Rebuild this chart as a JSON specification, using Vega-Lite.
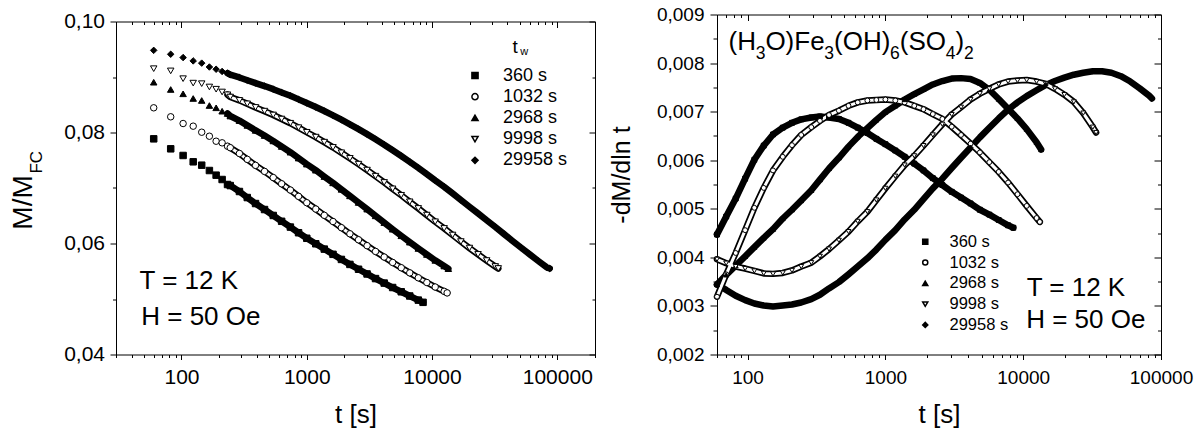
{
"$schema": "https://vega.github.io/schema/vega-lite/v6.json",
"background": "white",
"padding": {"left": 9, "top": 5.5, "right": 2, "bottom": 2},
"config": {
 "font": "Liberation Sans",
 "view": {"stroke": null},
 "axis": {"domainColor": "black", "domainWidth": 1, "tickColor": "black", "tickWidth": 1, "labelColor": "black", "titleColor": "black", "titleFontWeight": "normal", "grid": false, "labelFlush": false, "labelOverlap": false},
 "legend": {"labelColor": "black"}
},
"datasets": {
"L": [
{"s":"360 s","t":60,"v":0.07886},{"s":"360 s","t":82,"v":0.07706},{"s":"360 s","t":103,"v":0.07586},{"s":"360 s","t":124,"v":0.07472},{"s":"360 s","t":145,"v":0.07411},{"s":"360 s","t":167,"v":0.07315},{"s":"360 s","t":189,"v":0.07231},{"s":"360 s","t":211,"v":0.07153},{"s":"360 s","t":233,"v":0.07063},{"s":"360 s","t":245,"v":0.07044},{"s":"360 s","t":290,"v":0.06937},{"s":"360 s","t":335,"v":0.06828},{"s":"360 s","t":390,"v":0.0672},{"s":"360 s","t":460,"v":0.06612},{"s":"360 s","t":540,"v":0.06505},{"s":"360 s","t":630,"v":0.064},{"s":"360 s","t":740,"v":0.06296},{"s":"360 s","t":860,"v":0.06194},{"s":"360 s","t":1000,"v":0.06094},{"s":"360 s","t":1180,"v":0.05995},{"s":"360 s","t":1380,"v":0.05899},{"s":"360 s","t":1620,"v":0.05805},{"s":"360 s","t":1890,"v":0.05713},{"s":"360 s","t":2210,"v":0.05623},{"s":"360 s","t":2590,"v":0.05536},{"s":"360 s","t":3030,"v":0.05451},{"s":"360 s","t":3540,"v":0.05368},{"s":"360 s","t":4150,"v":0.05287},{"s":"360 s","t":4850,"v":0.05207},{"s":"360 s","t":5680,"v":0.0513},{"s":"360 s","t":6640,"v":0.05054},{"s":"360 s","t":7770,"v":0.0498},{"s":"360 s","t":8480,"v":0.0494},
{"s":"1032 s","t":60,"v":0.08445},{"s":"1032 s","t":82,"v":0.08283},{"s":"1032 s","t":103,"v":0.08162},{"s":"1032 s","t":124,"v":0.08114},{"s":"1032 s","t":145,"v":0.08005},{"s":"1032 s","t":167,"v":0.07933},{"s":"1032 s","t":189,"v":0.07843},{"s":"1032 s","t":211,"v":0.07814},{"s":"1032 s","t":233,"v":0.07753},{"s":"1032 s","t":245,"v":0.07726},{"s":"1032 s","t":290,"v":0.07622},{"s":"1032 s","t":335,"v":0.07516},{"s":"1032 s","t":390,"v":0.07408},{"s":"1032 s","t":460,"v":0.07299},{"s":"1032 s","t":540,"v":0.07188},{"s":"1032 s","t":630,"v":0.07076},{"s":"1032 s","t":740,"v":0.06963},{"s":"1032 s","t":860,"v":0.06849},{"s":"1032 s","t":1000,"v":0.06735},{"s":"1032 s","t":1180,"v":0.06621},{"s":"1032 s","t":1380,"v":0.06508},{"s":"1032 s","t":1620,"v":0.06396},{"s":"1032 s","t":1890,"v":0.06285},{"s":"1032 s","t":2210,"v":0.06175},{"s":"1032 s","t":2590,"v":0.06067},{"s":"1032 s","t":3030,"v":0.05961},{"s":"1032 s","t":3540,"v":0.05857},{"s":"1032 s","t":4150,"v":0.05756},{"s":"1032 s","t":4850,"v":0.05658},{"s":"1032 s","t":5680,"v":0.05563},{"s":"1032 s","t":6640,"v":0.05471},{"s":"1032 s","t":7770,"v":0.05382},{"s":"1032 s","t":9090,"v":0.05297},{"s":"1032 s","t":10600,"v":0.05216},{"s":"1032 s","t":12500,"v":0.05138},{"s":"1032 s","t":13200,"v":0.0511},
{"s":"2968 s","t":60,"v":0.08906},{"s":"2968 s","t":82,"v":0.08775},{"s":"2968 s","t":103,"v":0.08697},{"s":"2968 s","t":124,"v":0.08613},{"s":"2968 s","t":145,"v":0.08577},{"s":"2968 s","t":167,"v":0.08486},{"s":"2968 s","t":189,"v":0.08445},{"s":"2968 s","t":211,"v":0.08384},{"s":"2968 s","t":233,"v":0.08342},{"s":"2968 s","t":245,"v":0.08297},{"s":"2968 s","t":290,"v":0.08214},{"s":"2968 s","t":335,"v":0.08128},{"s":"2968 s","t":390,"v":0.08038},{"s":"2968 s","t":460,"v":0.07945},{"s":"2968 s","t":540,"v":0.07848},{"s":"2968 s","t":630,"v":0.07748},{"s":"2968 s","t":740,"v":0.07645},{"s":"2968 s","t":860,"v":0.07539},{"s":"2968 s","t":1000,"v":0.0743},{"s":"2968 s","t":1180,"v":0.0732},{"s":"2968 s","t":1380,"v":0.07207},{"s":"2968 s","t":1620,"v":0.07092},{"s":"2968 s","t":1890,"v":0.06976},{"s":"2968 s","t":2210,"v":0.06858},{"s":"2968 s","t":2590,"v":0.06739},{"s":"2968 s","t":3030,"v":0.06619},{"s":"2968 s","t":3540,"v":0.06498},{"s":"2968 s","t":4150,"v":0.06377},{"s":"2968 s","t":4850,"v":0.06257},{"s":"2968 s","t":5680,"v":0.06139},{"s":"2968 s","t":6640,"v":0.06024},{"s":"2968 s","t":7770,"v":0.05911},{"s":"2968 s","t":9090,"v":0.05802},{"s":"2968 s","t":10600,"v":0.05696},{"s":"2968 s","t":12500,"v":0.05594},{"s":"2968 s","t":13500,"v":0.05546},
{"s":"9998 s","t":60,"v":0.0915},{"s":"9998 s","t":82,"v":0.0911},{"s":"9998 s","t":103,"v":0.0897},{"s":"9998 s","t":124,"v":0.0889},{"s":"9998 s","t":145,"v":0.0888},{"s":"9998 s","t":167,"v":0.0882},{"s":"9998 s","t":189,"v":0.0878},{"s":"9998 s","t":211,"v":0.0873},{"s":"9998 s","t":233,"v":0.0868},{"s":"9998 s","t":245,"v":0.08639},{"s":"9998 s","t":290,"v":0.08579},{"s":"9998 s","t":335,"v":0.08517},{"s":"9998 s","t":390,"v":0.08452},{"s":"9998 s","t":460,"v":0.08385},{"s":"9998 s","t":540,"v":0.08316},{"s":"9998 s","t":630,"v":0.08243},{"s":"9998 s","t":740,"v":0.08167},{"s":"9998 s","t":860,"v":0.08087},{"s":"9998 s","t":1000,"v":0.08004},{"s":"9998 s","t":1180,"v":0.07917},{"s":"9998 s","t":1380,"v":0.07826},{"s":"9998 s","t":1620,"v":0.07732},{"s":"9998 s","t":1890,"v":0.07635},{"s":"9998 s","t":2210,"v":0.07534},{"s":"9998 s","t":2590,"v":0.0743},{"s":"9998 s","t":3030,"v":0.07323},{"s":"9998 s","t":3540,"v":0.07213},{"s":"9998 s","t":4150,"v":0.071},{"s":"9998 s","t":4850,"v":0.06985},{"s":"9998 s","t":5680,"v":0.06869},{"s":"9998 s","t":6640,"v":0.06751},{"s":"9998 s","t":7770,"v":0.06632},{"s":"9998 s","t":9090,"v":0.06512},{"s":"9998 s","t":10600,"v":0.06392},{"s":"9998 s","t":12500,"v":0.06272},{"s":"9998 s","t":14600,"v":0.06153},{"s":"9998 s","t":17000,"v":0.06035},{"s":"9998 s","t":19900,"v":0.05918},{"s":"9998 s","t":23300,"v":0.05804},{"s":"9998 s","t":27300,"v":0.05693},{"s":"9998 s","t":32000,"v":0.05586},{"s":"9998 s","t":33800,"v":0.0555},
{"s":"29958 s","t":60,"v":0.0948},{"s":"29958 s","t":82,"v":0.0941},{"s":"29958 s","t":103,"v":0.0935},{"s":"29958 s","t":124,"v":0.0929},{"s":"29958 s","t":145,"v":0.0925},{"s":"29958 s","t":167,"v":0.0918},{"s":"29958 s","t":189,"v":0.0914},{"s":"29958 s","t":211,"v":0.091},{"s":"29958 s","t":233,"v":0.0907},{"s":"29958 s","t":245,"v":0.09041},{"s":"29958 s","t":290,"v":0.08992},{"s":"29958 s","t":335,"v":0.08942},{"s":"29958 s","t":390,"v":0.0889},{"s":"29958 s","t":460,"v":0.08837},{"s":"29958 s","t":540,"v":0.08781},{"s":"29958 s","t":630,"v":0.08722},{"s":"29958 s","t":740,"v":0.08661},{"s":"29958 s","t":860,"v":0.08597},{"s":"29958 s","t":1000,"v":0.0853},{"s":"29958 s","t":1180,"v":0.0846},{"s":"29958 s","t":1380,"v":0.08387},{"s":"29958 s","t":1620,"v":0.0831},{"s":"29958 s","t":1890,"v":0.0823},{"s":"29958 s","t":2210,"v":0.08147},{"s":"29958 s","t":2590,"v":0.0806},{"s":"29958 s","t":3030,"v":0.0797},{"s":"29958 s","t":3540,"v":0.07877},{"s":"29958 s","t":4150,"v":0.0778},{"s":"29958 s","t":4850,"v":0.0768},{"s":"29958 s","t":5680,"v":0.07577},{"s":"29958 s","t":6640,"v":0.07471},{"s":"29958 s","t":7770,"v":0.07362},{"s":"29958 s","t":9090,"v":0.0725},{"s":"29958 s","t":10600,"v":0.07136},{"s":"29958 s","t":12500,"v":0.0702},{"s":"29958 s","t":14600,"v":0.06903},{"s":"29958 s","t":17000,"v":0.06783},{"s":"29958 s","t":19900,"v":0.06663},{"s":"29958 s","t":23300,"v":0.06542},{"s":"29958 s","t":27300,"v":0.0642},{"s":"29958 s","t":32000,"v":0.06297},{"s":"29958 s","t":37400,"v":0.06174},{"s":"29958 s","t":43700,"v":0.06051},{"s":"29958 s","t":51200,"v":0.05929},{"s":"29958 s","t":59900,"v":0.05809},{"s":"29958 s","t":70100,"v":0.0569},{"s":"29958 s","t":82000,"v":0.05574},{"s":"29958 s","t":87000,"v":0.0555}
],
"R": [
{"s":"360 s","t":60,"v":0.00447},{"s":"360 s","t":70,"v":0.00484},{"s":"360 s","t":82,"v":0.00521},{"s":"360 s","t":96,"v":0.00562},{"s":"360 s","t":112,"v":0.00601},{"s":"360 s","t":131,"v":0.0063},{"s":"360 s","t":153,"v":0.00653},{"s":"360 s","t":180,"v":0.00667},{"s":"360 s","t":210,"v":0.00677},{"s":"360 s","t":245,"v":0.00684},{"s":"360 s","t":290,"v":0.00688},{"s":"360 s","t":335,"v":0.0069},{"s":"360 s","t":390,"v":0.00688},{"s":"360 s","t":460,"v":0.00685},{"s":"360 s","t":540,"v":0.00677},{"s":"360 s","t":630,"v":0.00667},{"s":"360 s","t":740,"v":0.00656},{"s":"360 s","t":860,"v":0.00644},{"s":"360 s","t":1000,"v":0.00633},{"s":"360 s","t":1180,"v":0.0062},{"s":"360 s","t":1380,"v":0.00607},{"s":"360 s","t":1620,"v":0.00593},{"s":"360 s","t":1890,"v":0.00579},{"s":"360 s","t":2210,"v":0.00563},{"s":"360 s","t":2590,"v":0.00549},{"s":"360 s","t":3030,"v":0.00535},{"s":"360 s","t":3540,"v":0.00523},{"s":"360 s","t":4150,"v":0.00511},{"s":"360 s","t":4850,"v":0.00498},{"s":"360 s","t":5680,"v":0.00488},{"s":"360 s","t":6640,"v":0.00477},{"s":"360 s","t":7770,"v":0.00466},{"s":"360 s","t":8480,"v":0.00461},
{"s":"1032 s","t":60,"v":0.00319},{"s":"1032 s","t":70,"v":0.00365},{"s":"1032 s","t":82,"v":0.00409},{"s":"1032 s","t":96,"v":0.00456},{"s":"1032 s","t":112,"v":0.00502},{"s":"1032 s","t":131,"v":0.00543},{"s":"1032 s","t":153,"v":0.00579},{"s":"1032 s","t":180,"v":0.00607},{"s":"1032 s","t":210,"v":0.00631},{"s":"1032 s","t":245,"v":0.00652},{"s":"1032 s","t":290,"v":0.00668},{"s":"1032 s","t":335,"v":0.00681},{"s":"1032 s","t":390,"v":0.00693},{"s":"1032 s","t":460,"v":0.00702},{"s":"1032 s","t":540,"v":0.00712},{"s":"1032 s","t":630,"v":0.00719},{"s":"1032 s","t":740,"v":0.00723},{"s":"1032 s","t":860,"v":0.00724},{"s":"1032 s","t":1000,"v":0.00725},{"s":"1032 s","t":1180,"v":0.00723},{"s":"1032 s","t":1380,"v":0.00719},{"s":"1032 s","t":1620,"v":0.00712},{"s":"1032 s","t":1890,"v":0.00705},{"s":"1032 s","t":2210,"v":0.00695},{"s":"1032 s","t":2590,"v":0.00685},{"s":"1032 s","t":3030,"v":0.00669},{"s":"1032 s","t":3540,"v":0.00652},{"s":"1032 s","t":4150,"v":0.00634},{"s":"1032 s","t":4850,"v":0.00616},{"s":"1032 s","t":5680,"v":0.00596},{"s":"1032 s","t":6640,"v":0.00576},{"s":"1032 s","t":7770,"v":0.00554},{"s":"1032 s","t":9090,"v":0.0053},{"s":"1032 s","t":10600,"v":0.00506},{"s":"1032 s","t":12500,"v":0.00481},{"s":"1032 s","t":13200,"v":0.00473},
{"s":"2968 s","t":60,"v":0.00344},{"s":"2968 s","t":70,"v":0.00364},{"s":"2968 s","t":82,"v":0.00383},{"s":"2968 s","t":96,"v":0.00402},{"s":"2968 s","t":112,"v":0.00421},{"s":"2968 s","t":131,"v":0.0044},{"s":"2968 s","t":153,"v":0.00458},{"s":"2968 s","t":180,"v":0.0048},{"s":"2968 s","t":210,"v":0.00498},{"s":"2968 s","t":245,"v":0.00517},{"s":"2968 s","t":290,"v":0.00538},{"s":"2968 s","t":335,"v":0.0056},{"s":"2968 s","t":390,"v":0.00583},{"s":"2968 s","t":460,"v":0.00605},{"s":"2968 s","t":540,"v":0.00628},{"s":"2968 s","t":630,"v":0.00648},{"s":"2968 s","t":740,"v":0.00666},{"s":"2968 s","t":860,"v":0.00683},{"s":"2968 s","t":1000,"v":0.00699},{"s":"2968 s","t":1180,"v":0.00712},{"s":"2968 s","t":1380,"v":0.00725},{"s":"2968 s","t":1620,"v":0.00736},{"s":"2968 s","t":1890,"v":0.00746},{"s":"2968 s","t":2210,"v":0.00756},{"s":"2968 s","t":2590,"v":0.00763},{"s":"2968 s","t":3030,"v":0.00768},{"s":"2968 s","t":3540,"v":0.00769},{"s":"2968 s","t":4150,"v":0.00767},{"s":"2968 s","t":4850,"v":0.00759},{"s":"2968 s","t":5680,"v":0.00745},{"s":"2968 s","t":6640,"v":0.00726},{"s":"2968 s","t":7770,"v":0.00706},{"s":"2968 s","t":9090,"v":0.00686},{"s":"2968 s","t":10600,"v":0.00664},{"s":"2968 s","t":12500,"v":0.00637},{"s":"2968 s","t":13500,"v":0.00622},
{"s":"9998 s","t":60,"v":0.00396},{"s":"9998 s","t":70,"v":0.00388},{"s":"9998 s","t":82,"v":0.00381},{"s":"9998 s","t":96,"v":0.00377},{"s":"9998 s","t":112,"v":0.00372},{"s":"9998 s","t":131,"v":0.00367},{"s":"9998 s","t":153,"v":0.00366},{"s":"9998 s","t":180,"v":0.00368},{"s":"9998 s","t":210,"v":0.00373},{"s":"9998 s","t":245,"v":0.00381},{"s":"9998 s","t":290,"v":0.00389},{"s":"9998 s","t":335,"v":0.00402},{"s":"9998 s","t":390,"v":0.00417},{"s":"9998 s","t":460,"v":0.00435},{"s":"9998 s","t":540,"v":0.00453},{"s":"9998 s","t":630,"v":0.00474},{"s":"9998 s","t":740,"v":0.00494},{"s":"9998 s","t":860,"v":0.00518},{"s":"9998 s","t":1000,"v":0.00542},{"s":"9998 s","t":1180,"v":0.00567},{"s":"9998 s","t":1380,"v":0.0059},{"s":"9998 s","t":1620,"v":0.00609},{"s":"9998 s","t":1890,"v":0.0063},{"s":"9998 s","t":2210,"v":0.00652},{"s":"9998 s","t":2590,"v":0.00674},{"s":"9998 s","t":3030,"v":0.00694},{"s":"9998 s","t":3540,"v":0.00709},{"s":"9998 s","t":4150,"v":0.00725},{"s":"9998 s","t":4850,"v":0.00737},{"s":"9998 s","t":5680,"v":0.00747},{"s":"9998 s","t":6640,"v":0.00756},{"s":"9998 s","t":7770,"v":0.00762},{"s":"9998 s","t":9090,"v":0.00764},{"s":"9998 s","t":10600,"v":0.00765},{"s":"9998 s","t":12500,"v":0.00762},{"s":"9998 s","t":14600,"v":0.00757},{"s":"9998 s","t":17000,"v":0.00747},{"s":"9998 s","t":19900,"v":0.00735},{"s":"9998 s","t":23300,"v":0.0072},{"s":"9998 s","t":27300,"v":0.00697},{"s":"9998 s","t":32000,"v":0.00668},{"s":"9998 s","t":33800,"v":0.00657},
{"s":"29958 s","t":60,"v":0.00344},{"s":"29958 s","t":70,"v":0.00333},{"s":"29958 s","t":82,"v":0.00321},{"s":"29958 s","t":96,"v":0.00312},{"s":"29958 s","t":112,"v":0.00305},{"s":"29958 s","t":131,"v":0.00301},{"s":"29958 s","t":153,"v":0.00299},{"s":"29958 s","t":180,"v":0.00301},{"s":"29958 s","t":210,"v":0.00303},{"s":"29958 s","t":245,"v":0.00307},{"s":"29958 s","t":290,"v":0.00314},{"s":"29958 s","t":335,"v":0.00323},{"s":"29958 s","t":390,"v":0.00336},{"s":"29958 s","t":460,"v":0.00349},{"s":"29958 s","t":540,"v":0.00365},{"s":"29958 s","t":630,"v":0.00381},{"s":"29958 s","t":740,"v":0.00398},{"s":"29958 s","t":860,"v":0.00416},{"s":"29958 s","t":1000,"v":0.00436},{"s":"29958 s","t":1180,"v":0.00456},{"s":"29958 s","t":1380,"v":0.00478},{"s":"29958 s","t":1620,"v":0.00498},{"s":"29958 s","t":1890,"v":0.0052},{"s":"29958 s","t":2210,"v":0.00542},{"s":"29958 s","t":2590,"v":0.00562},{"s":"29958 s","t":3030,"v":0.00584},{"s":"29958 s","t":3540,"v":0.00605},{"s":"29958 s","t":4150,"v":0.00626},{"s":"29958 s","t":4850,"v":0.00647},{"s":"29958 s","t":5680,"v":0.00667},{"s":"29958 s","t":6640,"v":0.00686},{"s":"29958 s","t":7770,"v":0.00704},{"s":"29958 s","t":9090,"v":0.00719},{"s":"29958 s","t":10600,"v":0.00732},{"s":"29958 s","t":12500,"v":0.00744},{"s":"29958 s","t":14600,"v":0.00755},{"s":"29958 s","t":17000,"v":0.00763},{"s":"29958 s","t":19900,"v":0.0077},{"s":"29958 s","t":23300,"v":0.00776},{"s":"29958 s","t":27300,"v":0.0078},{"s":"29958 s","t":32000,"v":0.00783},{"s":"29958 s","t":37400,"v":0.00783},{"s":"29958 s","t":43700,"v":0.0078},{"s":"29958 s","t":51200,"v":0.00773},{"s":"29958 s","t":59900,"v":0.00762},{"s":"29958 s","t":70100,"v":0.00748},{"s":"29958 s","t":82000,"v":0.00733},{"s":"29958 s","t":86000,"v":0.00727}
]
},
"spacing": 13,
"resolve": {"scale": {"shape": "shared", "fill": "shared"}, "legend": {"shape": "independent", "fill": "independent"}},
"hconcat": [
{
 "width": 479, "height": 340,
 "resolve": {"axis": {"x": "independent", "y": "independent"}},
 "layer": [
  {
   "data": {"name": "L"},
   "transform": [{"filter": "datum.t >= 233"}],
   "mark": {"type": "line", "color": "black", "strokeWidth": 6.5, "strokeJoin": "round", "strokeCap": "round"},
   "encoding": {
    "x": {"field": "t", "type": "quantitative", "scale": {"type": "log", "domain": [30, 200000], "nice": false},
     "axis": {"orient": "bottom", "values": [30,40,50,60,70,80,90,100,200,300,400,500,600,700,800,900,1000,2000,3000,4000,5000,6000,7000,8000,9000,10000,20000,30000,40000,50000,60000,70000,80000,90000,100000,200000],
      "format": "d", "labelExpr": "indexof([100,1000,10000,100000], datum.value) >= 0 ? datum.label : ''",
      "tickSize": {"condition": {"test": "indexof([100,1000,10000,100000], datum.value) >= 0", "value": 5}, "value": 3},
      "labelFontSize": 21, "labelPadding": 6.5, "title": "t [s]", "titleFontSize": 26, "titlePadding": 14}},
    "y": {"field": "v", "type": "quantitative", "scale": {"domain": [0.04, 0.1], "range": [340, 7], "nice": false, "zero": false},
     "axis": {"orient": "left", "values": [0.04,0.05,0.06,0.07,0.08,0.09,0.1],
      "labelExpr": "abs(datum.value*50 - round(datum.value*50)) < 0.001 ? replace(format(datum.value, '.2f'), '.', ',') : ''",
      "tickSize": {"condition": {"test": "abs(datum.value*50 - round(datum.value*50)) < 0.001", "value": 6}, "value": 3.5},
      "labelFontSize": 21, "labelPadding": 5.5, "title": null}},
    "detail": {"field": "s"}
   }
  },
  {
   "data": {"name": "L"},
   "transform": [{"filter": "datum.t >= 233 && (datum.s == '1032 s' || datum.s == '9998 s')"}],
   "mark": {"type": "line", "color": "white", "strokeWidth": 3, "strokeJoin": "round", "strokeCap": "round"},
   "encoding": {
    "x": {"field": "t", "type": "quantitative", "scale": {"type": "log", "domain": [30, 200000], "nice": false},
     "axis": {"orient": "top", "offset": -7, "values": [30,40,50,60,70,80,90,100,200,300,400,500,600,700,800,900,1000,2000,3000,4000,5000,6000,7000,8000,9000,10000,20000,30000,40000,50000,60000,70000,80000,90000,100000,200000],
      "labels": false,
      "tickSize": {"condition": {"test": "indexof([100,1000,10000,100000], datum.value) >= 0", "value": -6}, "value": -3},
      "title": null}},
    "y": {"field": "v", "type": "quantitative", "scale": {"domain": [0.04, 0.1], "range": [340, 7], "nice": false, "zero": false},
     "axis": {"orient": "right", "values": [0.04,0.05,0.06,0.07,0.08,0.09,0.1], "labels": false,
      "tickSize": {"condition": {"test": "abs(datum.value*50 - round(datum.value*50)) < 0.001", "value": -6}, "value": -3}, "title": null}},
    "detail": {"field": "s"}
   }
  },
  {
   "data": {"name": "L"},
   "mark": {"type": "point", "filled": true, "stroke": "black", "strokeWidth": 1, "opacity": 1, "size": 42},
   "encoding": {
    "x": {"field": "t", "type": "quantitative", "scale": {"type": "log", "domain": [30, 200000], "nice": false}, "axis": null},
    "y": {"field": "v", "type": "quantitative", "scale": {"domain": [0.04, 0.1], "range": [340, 7], "nice": false, "zero": false}, "axis": null},
    "shape": {"field": "s", "type": "nominal", "scale": {"domain": ["360 s","1032 s","2968 s","9998 s","29958 s"], "range": ["square","circle","triangle-up","triangle-down","diamond"]},
     "legend": {"orient": "none", "legendX": 350, "legendY": 52, "title": null, "labelFontSize": 18, "symbolSize": 38, "labelOffset": 19, "rowPadding": 3.2, "padding": 0,
      "encode": {"symbols": {"update": {"stroke": {"value": "black"}, "strokeWidth": {"value": 1}}}}}},
    "fill": {"field": "s", "type": "nominal", "scale": {"domain": ["360 s","1032 s","2968 s","9998 s","29958 s"], "range": ["black","white","black","white","black"]},
     "legend": {"orient": "none", "legendX": 350, "legendY": 52, "title": null, "labelFontSize": 18, "symbolSize": 38, "labelOffset": 19, "rowPadding": 3.2, "padding": 0,
      "encode": {"symbols": {"update": {"stroke": {"value": "black"}, "strokeWidth": {"value": 1}}}}}}
   }
  },
  {
   "data": {"values": [{"txt": "T = 12 K", "t": 46.2, "v": 0.05184}, {"txt": "H = 50 Oe", "t": 47.7, "v": 0.04523}]},
   "mark": {"type": "text", "fontSize": 26, "align": "left", "baseline": "alphabetic", "color": "black"},
   "encoding": {
    "x": {"field": "t", "type": "quantitative", "scale": {"type": "log", "domain": [30, 200000], "nice": false}, "axis": null},
    "y": {"field": "v", "type": "quantitative", "scale": {"domain": [0.04, 0.1], "range": [340, 7], "nice": false, "zero": false}, "axis": null},
    "text": {"field": "txt"}
   }
  },
  {
   "data": {"values": [{"txt": "M/M", "t": 6.39, "v": 0.0625}]},
   "mark": {"type": "text", "fontSize": 28, "angle": 270, "align": "left", "baseline": "alphabetic", "color": "black"},
   "encoding": {
    "x": {"field": "t", "type": "quantitative", "scale": {"type": "log", "domain": [30, 200000], "nice": false}, "axis": null},
    "y": {"field": "v", "type": "quantitative", "scale": {"domain": [0.04, 0.1], "range": [340, 7], "nice": false, "zero": false}, "axis": null},
    "text": {"field": "txt"}
   }
  },
  {
   "data": {"values": [{"txt": "FC", "t": 7.68, "v": 0.0726}]},
   "mark": {"type": "text", "fontSize": 17, "angle": 270, "align": "left", "baseline": "alphabetic", "color": "black"},
   "encoding": {
    "x": {"field": "t", "type": "quantitative", "scale": {"type": "log", "domain": [30, 200000], "nice": false}, "axis": null},
    "y": {"field": "v", "type": "quantitative", "scale": {"domain": [0.04, 0.1], "range": [340, 7], "nice": false, "zero": false}, "axis": null},
    "text": {"field": "txt"}
   }
  },
  {
   "data": {"values": [{"txt": "t", "t": 43940, "v": 0.09436}]},
   "mark": {"type": "text", "fontSize": 19, "align": "left", "baseline": "alphabetic", "color": "black"},
   "encoding": {
    "x": {"field": "t", "type": "quantitative", "scale": {"type": "log", "domain": [30, 200000], "nice": false}, "axis": null},
    "y": {"field": "v", "type": "quantitative", "scale": {"domain": [0.04, 0.1], "range": [340, 7], "nice": false, "zero": false}, "axis": null},
    "text": {"field": "txt"}
   }
  },
  {
   "data": {"values": [{"txt": "w", "t": 50600, "v": 0.09396}]},
   "mark": {"type": "text", "fontSize": 11, "align": "left", "baseline": "alphabetic", "color": "black"},
   "encoding": {
    "x": {"field": "t", "type": "quantitative", "scale": {"type": "log", "domain": [30, 200000], "nice": false}, "axis": null},
    "y": {"field": "v", "type": "quantitative", "scale": {"domain": [0.04, 0.1], "range": [340, 7], "nice": false, "zero": false}, "axis": null},
    "text": {"field": "txt"}
   }
  }
 ]
},
{
 "width": 444, "height": 340,
 "resolve": {"axis": {"x": "independent", "y": "independent"}},
 "layer": [
  {
   "data": {"name": "R"},
   "mark": {"type": "line", "color": "black", "strokeWidth": 6.5, "strokeJoin": "round", "strokeCap": "round"},
   "encoding": {
    "x": {"field": "t", "type": "quantitative", "scale": {"type": "log", "domain": [60, 100000], "nice": false},
     "axis": {"orient": "bottom", "values": [60,70,80,90,100,200,300,400,500,600,700,800,900,1000,2000,3000,4000,5000,6000,7000,8000,9000,10000,20000,30000,40000,50000,60000,70000,80000,90000,100000],
      "format": "d", "labelExpr": "indexof([100,1000,10000,100000], datum.value) >= 0 ? datum.label : ''",
      "tickSize": {"condition": {"test": "indexof([100,1000,10000,100000], datum.value) >= 0", "value": 5}, "value": 3},
      "labelFontSize": 19, "labelPadding": 9, "title": "t [s]", "titleFontSize": 26, "titlePadding": 14}},
    "y": {"field": "v", "type": "quantitative", "scale": {"domain": [0.002, 0.009], "nice": false, "zero": false},
     "axis": {"orient": "left", "values": [0.002,0.0025,0.003,0.0035,0.004,0.0045,0.005,0.0055,0.006,0.0065,0.007,0.0075,0.008,0.0085,0.009],
      "labelExpr": "abs(datum.value*1000 - round(datum.value*1000)) < 0.01 ? replace(format(datum.value, '.3f'), '.', ',') : ''",
      "tickSize": {"condition": {"test": "abs(datum.value*1000 - round(datum.value*1000)) < 0.01", "value": 7}, "value": 4},
      "labelFontSize": 19, "labelPadding": 6, "title": "-dM/dln t", "titleFontSize": 25, "titlePadding": 22, "titleY": 160}},
    "detail": {"field": "s"}
   }
  },
  {
   "data": {"name": "R"},
   "transform": [{"filter": "datum.s == '1032 s' || datum.s == '9998 s'"}],
   "mark": {"type": "line", "color": "white", "strokeWidth": 3, "strokeJoin": "round", "strokeCap": "round"},
   "encoding": {
    "x": {"field": "t", "type": "quantitative", "scale": {"type": "log", "domain": [60, 100000], "nice": false},
     "axis": {"orient": "top", "values": [60,70,80,90,100,200,300,400,500,600,700,800,900,1000,2000,3000,4000,5000,6000,7000,8000,9000,10000,20000,30000,40000,50000,60000,70000,80000,90000,100000],
      "labels": false,
      "tickSize": {"condition": {"test": "indexof([100,1000,10000,100000], datum.value) >= 0", "value": -6}, "value": -3}, "title": null}},
    "y": {"field": "v", "type": "quantitative", "scale": {"domain": [0.002, 0.009], "nice": false, "zero": false},
     "axis": {"orient": "right", "values": [0.002,0.0025,0.003,0.0035,0.004,0.0045,0.005,0.0055,0.006,0.0065,0.007,0.0075,0.008,0.0085,0.009], "labels": false,
      "tickSize": {"condition": {"test": "abs(datum.value*1000 - round(datum.value*1000)) < 0.01", "value": -7}, "value": -3.5}, "title": null}},
    "detail": {"field": "s"}
   }
  },
  {
   "data": {"name": "R"},
   "mark": {"type": "point", "filled": true, "stroke": "black", "strokeWidth": 1, "opacity": 1, "size": 24},
   "encoding": {
    "x": {"field": "t", "type": "quantitative", "scale": {"type": "log", "domain": [60, 100000], "nice": false}, "axis": null},
    "y": {"field": "v", "type": "quantitative", "scale": {"domain": [0.002, 0.009], "nice": false, "zero": false}, "axis": null},
    "shape": {"field": "s", "type": "nominal", "scale": {"domain": ["360 s","1032 s","2968 s","9998 s","29958 s"], "range": ["square","circle","triangle-up","triangle-down","diamond"]},
     "legend": {"orient": "none", "legendX": 200, "legendY": 219, "title": null, "labelFontSize": 16.5, "symbolSize": 26, "labelOffset": 16, "rowPadding": 3.8, "padding": 0,
      "encode": {"symbols": {"update": {"stroke": {"value": "black"}, "strokeWidth": {"value": 1}}}}}},
    "fill": {"field": "s", "type": "nominal", "scale": {"domain": ["360 s","1032 s","2968 s","9998 s","29958 s"], "range": ["black","white","black","white","black"]},
     "legend": {"orient": "none", "legendX": 200, "legendY": 219, "title": null, "labelFontSize": 16.5, "symbolSize": 26, "labelOffset": 16, "rowPadding": 3.8, "padding": 0,
      "encode": {"symbols": {"update": {"stroke": {"value": "black"}, "strokeWidth": {"value": 1}}}}}}
   }
  },
  {
   "data": {"values": [{"txt": "T = 12 K", "t": 10600, "v": 0.0032}, {"txt": "H = 50 Oe", "t": 10513, "v": 0.00255}]},
   "mark": {"type": "text", "fontSize": 26, "align": "left", "baseline": "alphabetic", "color": "black"},
   "encoding": {
    "x": {"field": "t", "type": "quantitative", "scale": {"type": "log", "domain": [60, 100000], "nice": false}, "axis": null},
    "y": {"field": "v", "type": "quantitative", "scale": {"domain": [0.002, 0.009], "nice": false, "zero": false}, "axis": null},
    "text": {"field": "txt"}
   }
  },
  {
   "data": {"values": [{"txt": "(H", "t": 72.7, "v": 0.008276}, {"txt": "O)Fe", "t": 134.7, "v": 0.008276}, {"txt": "(OH)", "t": 423.8, "v": 0.008276}, {"txt": "(SO", "t": 1271, "v": 0.008276}, {"txt": ")", "t": 3221, "v": 0.008276}]},
   "mark": {"type": "text", "fontSize": 26, "align": "left", "baseline": "alphabetic", "color": "black"},
   "encoding": {
    "x": {"field": "t", "type": "quantitative", "scale": {"type": "log", "domain": [60, 100000], "nice": false}, "axis": null},
    "y": {"field": "v", "type": "quantitative", "scale": {"domain": [0.002, 0.009], "nice": false, "zero": false}, "axis": null},
    "text": {"field": "txt"}
   }
  },
  {
   "data": {"values": [{"txt": "3", "t": 114.6, "v": 0.00808}, {"txt": "3", "t": 360.5, "v": 0.00808}, {"txt": "6", "t": 1081, "v": 0.00808}, {"txt": "4", "t": 2740, "v": 0.00808}, {"txt": "2", "t": 3722, "v": 0.00808}]},
   "mark": {"type": "text", "fontSize": 17.5, "align": "left", "baseline": "alphabetic", "color": "black"},
   "encoding": {
    "x": {"field": "t", "type": "quantitative", "scale": {"type": "log", "domain": [60, 100000], "nice": false}, "axis": null},
    "y": {"field": "v", "type": "quantitative", "scale": {"domain": [0.002, 0.009], "nice": false, "zero": false}, "axis": null},
    "text": {"field": "txt"}
   }
  }
 ]
}
]
}
